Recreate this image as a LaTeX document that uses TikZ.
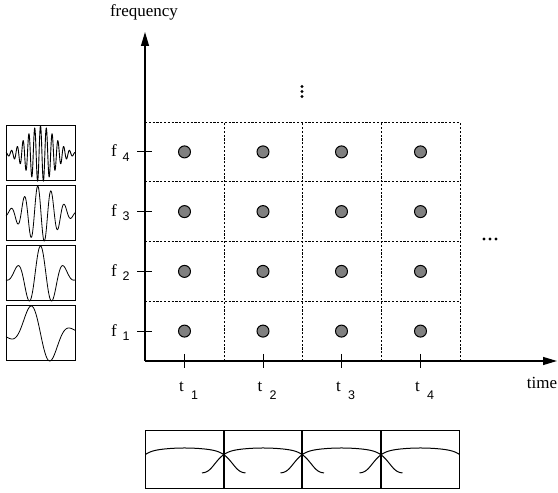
\documentclass[tikz,border=0pt]{standalone}
\usepackage{fontspec}
\setmainfont{Liberation Serif}
\newfontfamily\digitfont{Liberation Sans}
\usepackage{pgfplots}
\pgfplotsset{compat=1.18}
\usetikzlibrary{arrows.meta}
\definecolor{dotgray}{HTML}{808080}
\begin{document}
\begin{tikzpicture}[x=1pt,y=1pt,
  gridline/.style={dash pattern=on 2.2pt off 1.6pt, line width=0.8pt},
  axisline/.style={line width=1.2pt},
  tickline/.style={line width=1pt},
  griddot/.style={circle, draw, fill=dotgray, line width=1pt, minimum size=12pt, inner sep=0pt},
  smalldot/.style={circle, fill=black, minimum size=3.3pt, inner sep=0pt},
  wbox/.style={draw, line width=1.3pt},
  lab/.style={font=\fontsize{17}{17}\selectfont, inner sep=0pt},
  sublab/.style={font=\digitfont\fontsize{12.5}{12.5}\selectfont, inner sep=0pt},
  tip/.style={-{Triangle[length=14pt,width=8pt]}}
]
\useasboundingbox (0,0) rectangle (558,493);

% axes
\coordinate (O) at (145,132);
\coordinate (ytip) at (145,461);
\coordinate (xtip) at (557,132);
\draw[axisline,tip] (O) -- (ytip);
\draw[axisline,tip] (O) -- (xtip);
\node[lab] (freq) at (144,481) {frequency};
\node[lab] (time) at (542,110) {time};

% grid
\foreach \x [count=\i] in {224,302,381,460}{
  \coordinate (vb\i) at (\x,132);
  \coordinate (vt\i) at (\x,371);
  \draw[gridline] (vb\i) -- (vt\i);
}
\foreach \y [count=\i] in {191.75,251.5,311.25,371}{
  \coordinate (hl\i) at (145,\y);
  \coordinate (hr\i) at (460,\y);
  \draw[gridline] (hl\i) -- (hr\i);
}

% dots, ticks and labels
\foreach \cx [count=\c] in {184.5,263,341.5,420.5}{
  \foreach \Y [count=\r] in {161.9,221.6,281.4,341.1}{
    \node[griddot] (d\c\r) at (\cx,\Y) {};
  }
  \coordinate (tt\c) at (\cx,139);
  \coordinate (tb\c) at (\cx,125);
  \draw[tickline] (tt\c) -- (tb\c);
  \node[lab] (tl\c) at (\cx-3,106) {t};
  \node[sublab] (ts\c) at (\cx+10,98) {\c};
}
\foreach \Y [count=\r] in {161.9,221.6,281.4,341.1}{
  \coordinate (fl\r) at (137,\Y);
  \coordinate (fr\r) at (152,\Y);
  \draw[tickline] (fl\r) -- (fr\r);
  \node[lab] (fn\r) at (114,\Y+1) {f};
  \node[sublab] (fs\r) at (126,\Y-5) {\r};
}

% ellipses
\foreach \y [count=\i] in {396.5,401.5,406.5}{
  \node[smalldot] (vd\i) at (302,\y) {};
}
\foreach \x [count=\i] in {484,490,496}{
  \node[smalldot] (hd\i) at (\x,254) {};
}

% wavelet boxes
\pgfplotsset{wave/.style={hide axis, scale only axis, width=69pt, height=55pt,
  xmin=-34.5, xmax=34.5, enlargelimits=false, anchor=south west, clip=false}}
\begin{axis}[wave, at={(6pt,132pt)}]
  \addplot[black, line width=0.8pt, domain=-34.5:34.5, samples=200]
    {-sin(360*x/44)*exp(-x^2/512)};
\end{axis}
\begin{axis}[wave, at={(6pt,192pt)}]
  \addplot[black, line width=0.8pt, domain=-34.5:34.5, samples=250]
    {cos(360*x/23.3)*exp(-x^2/512)};
\end{axis}
\begin{axis}[wave, at={(6pt,252pt)}]
  \addplot[black, line width=0.8pt, domain=-34.5:34.5, samples=300]
    {cos(360*(x+2.8)/13.3)*exp(-x^2/512)};
\end{axis}
\begin{axis}[wave, at={(6pt,312pt)}]
  \addplot[black, line width=0.9pt, domain=-34.5:34.5, samples=700]
    {cos(360*x/5.8)*exp(-x^2/400)};
\end{axis}
\foreach \b [count=\k] in {132,192,252,312}{
  \node[wbox, minimum width=69pt, minimum height=55pt, anchor=south west, inner sep=0pt] (wb\k) at (6,\b) {};
}

% window boxes
\node[wbox, minimum width=314pt, minimum height=58pt, anchor=south west, inner sep=0pt] (win) at (145,4) {};
\foreach \x [count=\i] in {224,302,381}{
  \coordinate (wt\i) at (\x,62);
  \coordinate (wbt\i) at (\x,4);
  \draw[line width=1.3pt] (wt\i) -- (wbt\i);
}
\begin{scope}
  \clip (145,4) rectangle (459,62);
  \foreach \cx in {184.5,263,341.5,420.5}{
    \draw[line width=1pt] plot[domain=-61:61, samples=150, smooth]
      ({\cx+\x}, {20+25*(1-0.2*(\x/45)^2)*exp(-((abs(\x)+0.001)/50)^8)});
  }
\end{scope}
\end{tikzpicture}
\end{document}
